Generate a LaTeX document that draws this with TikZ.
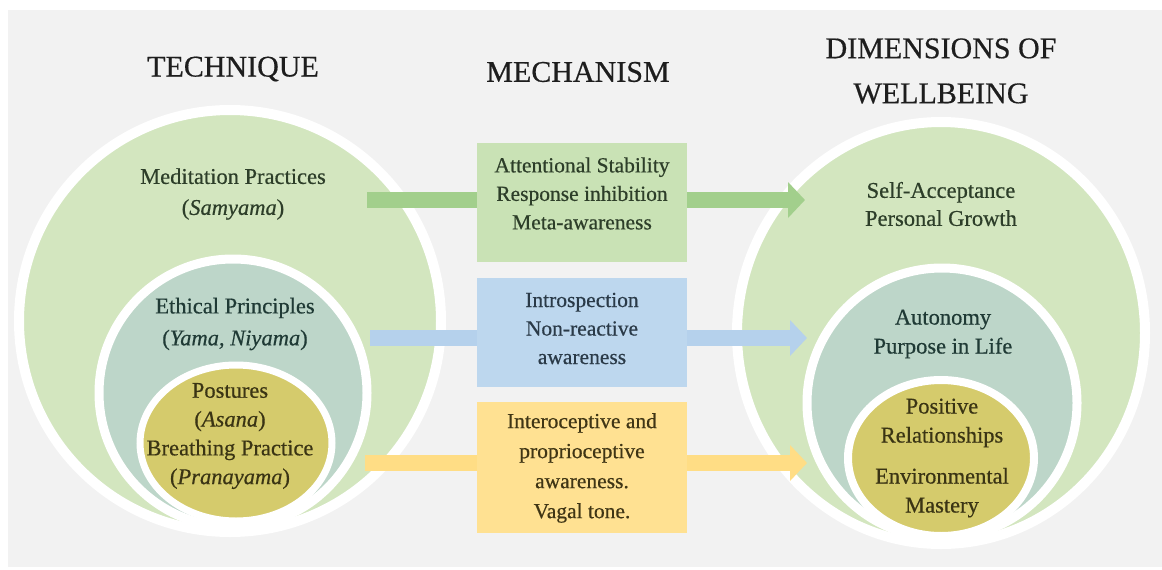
\documentclass[tikz,border=0pt]{standalone}
\usepackage{fontspec}
\setmainfont{Liberation Serif}[FakeBold=0.5]
\usetikzlibrary{arrows.meta, shapes.geometric}
\definecolor{bggray}{HTML}{F2F2F2}
\definecolor{outgreen}{HTML}{D3E6BF}
\definecolor{midteal}{HTML}{BDD6C9}
\definecolor{inolive}{HTML}{D5CB6C}
\definecolor{gbox}{HTML}{C9E2B5}
\definecolor{garr}{HTML}{A2CF8C}
\definecolor{bbox}{HTML}{BDD7EE}
\definecolor{barr}{HTML}{B5D1EC}
\definecolor{ybox}{HTML}{FFE192}
\definecolor{yarr}{HTML}{FFDD85}
\definecolor{headtxt}{HTML}{1E1E1E}
\definecolor{gtxt}{HTML}{2D3E29}
\definecolor{ttxt}{HTML}{1F3A35}
\definecolor{otxt}{HTML}{3A3414}
\definecolor{btxt}{HTML}{2A3A48}
\definecolor{ytxt}{HTML}{3F3515}
\tikzstyle{ring}=[draw=white, inner sep=0pt, outer sep=0pt]
\tikzstyle{mbox}=[rectangle, inner sep=0pt, outer sep=0pt, minimum width=210pt]
\tikzstyle{heading}=[align=center, inner sep=0pt, text=headtxt, font=\fontsize{30}{45}\selectfont]
\tikzstyle{body}=[align=center, inner sep=0pt, font=\fontsize{22.5}{29.5}\selectfont]
\tikzstyle{boxtext}=[align=center, inner sep=0pt, font=\fontsize{21.5}{28.5}\selectfont]
\tikzstyle{flow}=[line width=16pt]
\newcommand{\bigtip}{-{Triangle[length=17pt,width=35pt]}}
\begin{document}
\begin{tikzpicture}[x=1pt, y=-1pt]
\useasboundingbox (0,0) rectangle (1162,570);
\fill[white] (0,0) rectangle (1162,570);
\fill[bggray] (8,10) rectangle (1162,567);
% headings
\node[heading] (hT) at (233,69) {TECHNIQUE};
\node[heading] (hM) at (578,72) {MECHANISM};
\node[heading] (hD) at (941,71) {DIMENSIONS OF\\WELLBEING};
% technique circles
\node[ring, circle, fill=outgreen, line width=10pt, minimum size=422pt] (t1) at (230,321) {};
\node[ring, circle, fill=midteal, line width=9pt, minimum size=268pt] (t2) at (233,393) {};
\node[ring, ellipse, fill=inolive, line width=7pt, minimum width=192pt, minimum height=156pt] (t3) at (236,443) {};
\node[body, text=gtxt, font=\fontsize{22.5}{31}\selectfont] (t1txt) at (233,194) {Meditation Practices\\(\textit{Samyama})};
\node[body, text=ttxt, font=\fontsize{22.5}{32}\selectfont] (t2txt) at (235,324) {Ethical Principles\\(\textit{Yama, Niyama})};
\node[body, text=otxt, font=\fontsize{22.5}{28.8}\selectfont] (t3txt) at (230,436) {Postures\\(\textit{Asana})\\Breathing Practice\\(\textit{Pranayama})};
% wellbeing circles
\node[ring, ellipse, fill=outgreen, line width=10pt, minimum width=408pt, minimum height=422pt] (d1) at (941,333) {};
\node[ring, circle, fill=midteal, line width=9pt, minimum size=270pt] (d2) at (942,403) {};
\node[ring, ellipse, fill=inolive, line width=8pt, minimum width=186pt, minimum height=156pt] (d3) at (941,458) {};
\node[body, text=gtxt, font=\fontsize{22.5}{28}\selectfont] (d1txt) at (941,204) {Self-Acceptance\\Personal Growth};
\node[body, text=ttxt, font=\fontsize{22.5}{29}\selectfont] (d2txt) at (943,334) {Autonomy\\Purpose in Life};
\node[body, text=otxt, font=\fontsize{22.5}{29}\selectfont] (d3txt) at (942,458) {Positive\\Relationships\\[12pt]Environmental\\Mastery};
% mechanism boxes
\node[mbox, fill=gbox, minimum height=119pt] (mA) at (582,202.5) {};
\node[mbox, fill=bbox, minimum height=109pt] (mB) at (582,332.5) {};
\node[mbox, fill=ybox, minimum height=131pt] (mC) at (582,467.5) {};
\node[boxtext, text=gtxt] (mAtxt) at (582,193.5) {Attentional Stability\\Response inhibition\\Meta-awareness};
\node[boxtext, text=btxt] (mBtxt) at (582,328.5) {Introspection\\Non-reactive\\awareness};
\node[boxtext, text=ytxt, font=\fontsize{21.5}{30}\selectfont] (mCtxt) at (582,468) {Interoceptive and\\proprioceptive\\awareness.\\Vagal tone.};
% arrows
\coordinate (tA) at (367,200);
\coordinate (tB) at (370,338);
\coordinate (tC) at (365,463);
\coordinate (dA) at (805,200);
\coordinate (dB) at (807,338);
\coordinate (dC) at (807,463);
\draw[flow, garr] (tA) -- (tA -| mA.west);
\draw[flow, garr, \bigtip] (tA -| mA.east) -- (dA);
\draw[flow, barr] (tB) -- (tB -| mB.west);
\draw[flow, barr, \bigtip] (tB -| mB.east) -- (dB);
\draw[flow, yarr] (tC) -- (tC -| mC.west);
\draw[flow, yarr, \bigtip] (tC -| mC.east) -- (dC);
\end{tikzpicture}
\end{document}
